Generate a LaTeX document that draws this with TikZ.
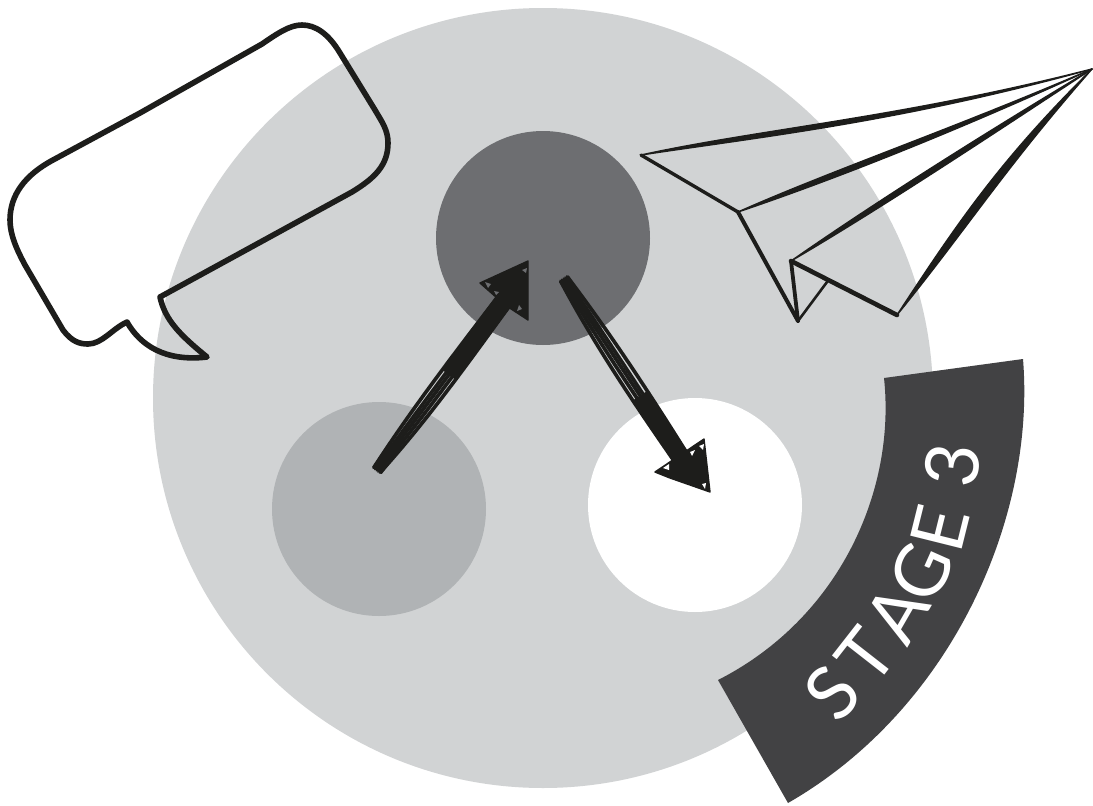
\documentclass[tikz,border=0pt]{standalone}
\usepackage{fontspec}
\setmainfont{Lato}
\usetikzlibrary{calc}
\definecolor{bigc}{HTML}{D1D3D4}
\definecolor{darkc}{HTML}{6D6E71}
\definecolor{midc}{HTML}{B0B3B5}
\definecolor{bandc}{HTML}{424244}
\definecolor{ink}{HTML}{1D1D1B}
\tikzset{
  disc/.style={circle,inner sep=0pt,minimum size=214pt,draw=none},
  inkfill/.style={fill=ink,draw=ink,line width=1.4pt,line join=round},
  outline/.style={draw=ink,line width=5.6pt,line join=round,line cap=round},
  scrib/.style={draw=ink,line width=3.6pt,line cap=round},
  stagechar/.style={text=white,font=\fontsize{74}{74}\selectfont,inner sep=0pt,anchor=center}
}
\begin{document}
\begin{tikzpicture}[x=1pt,y=-1pt]
\useasboundingbox (0,0) rectangle (1093,806);
\fill[white] (0,0) rectangle (1093,806);
\node[circle,inner sep=0pt,minimum size=780pt,fill=bigc] (big) at (543,398) {};
\node[disc,fill=darkc] (top) at (543,238) {};
\node[disc,fill=midc] (left) at (379,509) {};
\node[disc,fill=white] (right) at (695,505) {};
% band
\fill[bandc] (884,378) -- (1023,359) .. controls (1036,520) and (950,710) .. (788,803) -- (718,680) .. controls (840,618) and (896,490) .. (884,378) -- cycle;
% text
\node[stagechar,rotate=48] (s1) at (832,693) {S};
\node[stagechar,rotate=52] (s2) at (866,656) {T};
\node[stagechar,rotate=60] (s3) at (897,614) {A};
\node[stagechar,rotate=66] (s4) at (921,572) {G};
\node[stagechar,rotate=76] (s5) at (940,528) {E};
\node[stagechar,rotate=84] (s6) at (952,465) {3};
% speech bubble
\path[outline] (160,297) -- (352,192) .. controls (375,178) and (388,165) .. (388,143) .. controls (388,130) and (382,122) .. (375,110) -- (340,53) .. controls (328,33) and (315,25) .. (302,25) .. controls (290,25) and (278,33) .. (262,44) -- (140,113) -- (53,160) .. controls (25,175) and (10,195) .. (10,220) .. controls (10,235) and (17,250) .. (25,265) -- (63,330) .. controls (72,342) and (80,344) .. (88,344) .. controls (102,344) and (112,329) .. (127,322) .. controls (140,345) and (165,362) .. (207,357) .. controls (180,335) and (165,320) .. (160,297) -- cycle;
% paper plane
\coordinate (pA) at (641,155);
\coordinate (pB) at (738,212);
\coordinate (pT) at (1092,69);
\coordinate (pC) at (791,261);
\coordinate (pD) at (798,321);
\coordinate (pE) at (827,282);
\coordinate (pF) at (897,315);
\path[inkfill] (pA) .. controls (760,129) and (900,118) .. (pT) .. controls (900,122) and (760,137) .. (pA) -- cycle;
\path[inkfill] (pB) .. controls (830,171) and (950,130) .. (pT) .. controls (950,134) and (830,181) .. (pB) -- cycle;
\path[inkfill] (pC) .. controls (880,199) and (990,130) .. (pT) .. controls (990,136) and (880,209) .. (pC) -- cycle;
\path[inkfill] (pF) .. controls (958,222) and (1000,160) .. (pT) .. controls (1005,168) and (969,226) .. (pF) -- cycle;
\draw[ink,line width=3.4pt,line cap=round] (pA) -- (pB);
\draw[ink,line width=4pt,line cap=round] (pB) -- (pD);
\draw[ink,line width=3.8pt,line cap=round] (pC) -- (pD);
\draw[ink,line width=2.6pt,line cap=round] (pE) -- (pD);
\draw[ink,line width=4.6pt,line cap=round] (pC) -- (pF);
% arrow 1
\coordinate (a1t) at (377,470);
\coordinate (a1h) at (503,302);
\path[inkfill] (480,283) -- (528,261) -- (528,320) -- (505,305) -- cycle;
\begin{scope}[shift={(a1t)},rotate=53.1]
\path[inkfill] (120,-7.5) -- (215,-8.5) -- (215,8.5) -- (120,7.5) -- cycle;
\path[inkfill] (0,-5) -- (30,-6) -- (30,6) -- (0,5.5) -- cycle;
\path[scrib] (0,-4) .. controls (70,-9) and (140,-8) .. (212,-7.5);
\path[scrib] (0,-2) .. controls (70,-3.5) and (140,-3) .. (212,-3);
\path[scrib] (0,0) .. controls (70,1) and (140,0) .. (212,0);
\path[scrib] (0,2) .. controls (70,5.5) and (140,4) .. (212,3);
\path[scrib] (0,4) .. controls (70,10.5) and (140,8.5) .. (212,7.5);
\end{scope}
\fill[darkc] (485,282) -- (491,284) -- (488,288) -- cycle;
\fill[darkc] (494,291) -- (499,292) -- (496,295) -- cycle;
\fill[darkc] (522,270) -- (527,268) -- (526,273) -- cycle;
\fill[darkc] (519,305) -- (522,309) -- (517,311) -- cycle;
% arrow 2
\coordinate (a2t) at (564,279);
\coordinate (a2h) at (681,458);
\path[inkfill] (655,472) -- (704,439) -- (710,492) -- (670,478) -- cycle;
\begin{scope}[shift={(a2t)},rotate=-56.8]
\path[inkfill] (140,-7.5) -- (216,-8.5) -- (216,8.5) -- (140,7.5) -- cycle;
\path[inkfill] (0,-5) -- (25,-6) -- (25,6) -- (0,5) -- cycle;
\path[scrib] (0,-4) .. controls (70,-9) and (140,-9) .. (214,-7.5);
\path[scrib] (0,-2) .. controls (70,-3.5) and (140,-3) .. (214,-3);
\path[scrib] (0,0) .. controls (70,1) and (140,0) .. (214,0);
\path[scrib] (0,2) .. controls (70,5.5) and (140,4.5) .. (214,3);
\path[scrib] (0,4) .. controls (70,10.5) and (140,9.5) .. (214,7.5);
\end{scope}
\fill[white] (663,468) -- (669,464) -- (669,470) -- cycle;
\fill[white] (690,452) -- (695,450) -- (692,456) -- cycle;
\fill[white] (699,446) -- (704,444) -- (703,450) -- cycle;
\fill[white] (702,484) -- (706,483) -- (705,489) -- cycle;
\end{tikzpicture}
\end{document}
